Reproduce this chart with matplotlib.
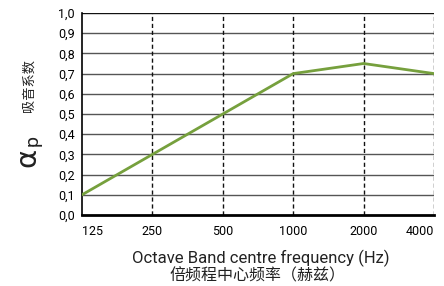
import matplotlib
matplotlib.use("Agg")
import matplotlib.pyplot as plt

freqs = ["125", "250", "500", "1000", "2000", "4000"]
alpha = [0.1, 0.3, 0.5, 0.7, 0.75, 0.7]
yticks = [0.0, 0.1, 0.2, 0.3, 0.4, 0.5, 0.6, 0.7, 0.8, 0.9, 1.0]

plt.rcParams['font.family'] = ['Roboto', 'Noto Sans CJK SC', 'DejaVu Sans']
CJK = ['Noto Sans CJK SC', 'DejaVu Sans']

fig = plt.figure(figsize=(4.44, 2.86), dpi=100)
ax = fig.add_axes([0.1847, 0.2483, 0.9775 - 0.1847, 0.9545 - 0.2483])

x = list(range(len(freqs)))
ax.set_xlim(0, len(freqs) - 1)
ax.set_ylim(0, 1.0)

for yv in yticks[1:]:
    ax.axhline(yv, color="#111111" if yv == 1.0 else "#555555", lw=1.0, zorder=1)
for xv in x[1:]:
    ax.axvline(xv, color="#111111", lw=1.0, ls=(0, (3, 2)), zorder=1)

ax.plot(x, alpha, color="#76a03d", lw=2.0, zorder=3)

for s in ["top", "right"]:
    ax.spines[s].set_visible(False)
ax.spines["left"].set_color("black")
ax.spines["left"].set_linewidth(1.2)
ax.spines["bottom"].set_color("black")
ax.spines["bottom"].set_linewidth(2.0)

ax.set_yticks(yticks)
ax.set_yticklabels([f"{v:.1f}".replace(".", ",") for v in yticks], fontsize=9)
ax.set_xticks(x)
ax.set_xticklabels(freqs, fontsize=9)
labels = ax.get_xticklabels()
labels[0].set_ha("left")
labels[-1].set_ha("right")
ax.tick_params(length=0, pad=5)
ax.tick_params(axis="x", pad=7)

fig.text(0.588, 0.098, "Octave Band centre frequency (Hz)", ha="center", va="center",
         fontsize=12, color="#222222")
fig.text(0.581, 0.035, "倍频程中心频率（赫兹）", ha="center", va="center",
         fontsize=11.5, color="#222222", family=CJK)

fig.text(0.062, 1 - 157 / 286, "α", rotation=90, ha="center", va="center",
         fontsize=21, color="#222222", family=['DejaVu Sans'])
fig.text(0.073, 1 - 140 / 286, "p", rotation=90, ha="center", va="center",
         fontsize=14, color="#222222")
fig.text(0.065, 1 - 85 / 286, "吸音系数", rotation=90, ha="center", va="center",
         fontsize=9.5, color="#222222", family=CJK)

fig.savefig("out.png", dpi=100)
